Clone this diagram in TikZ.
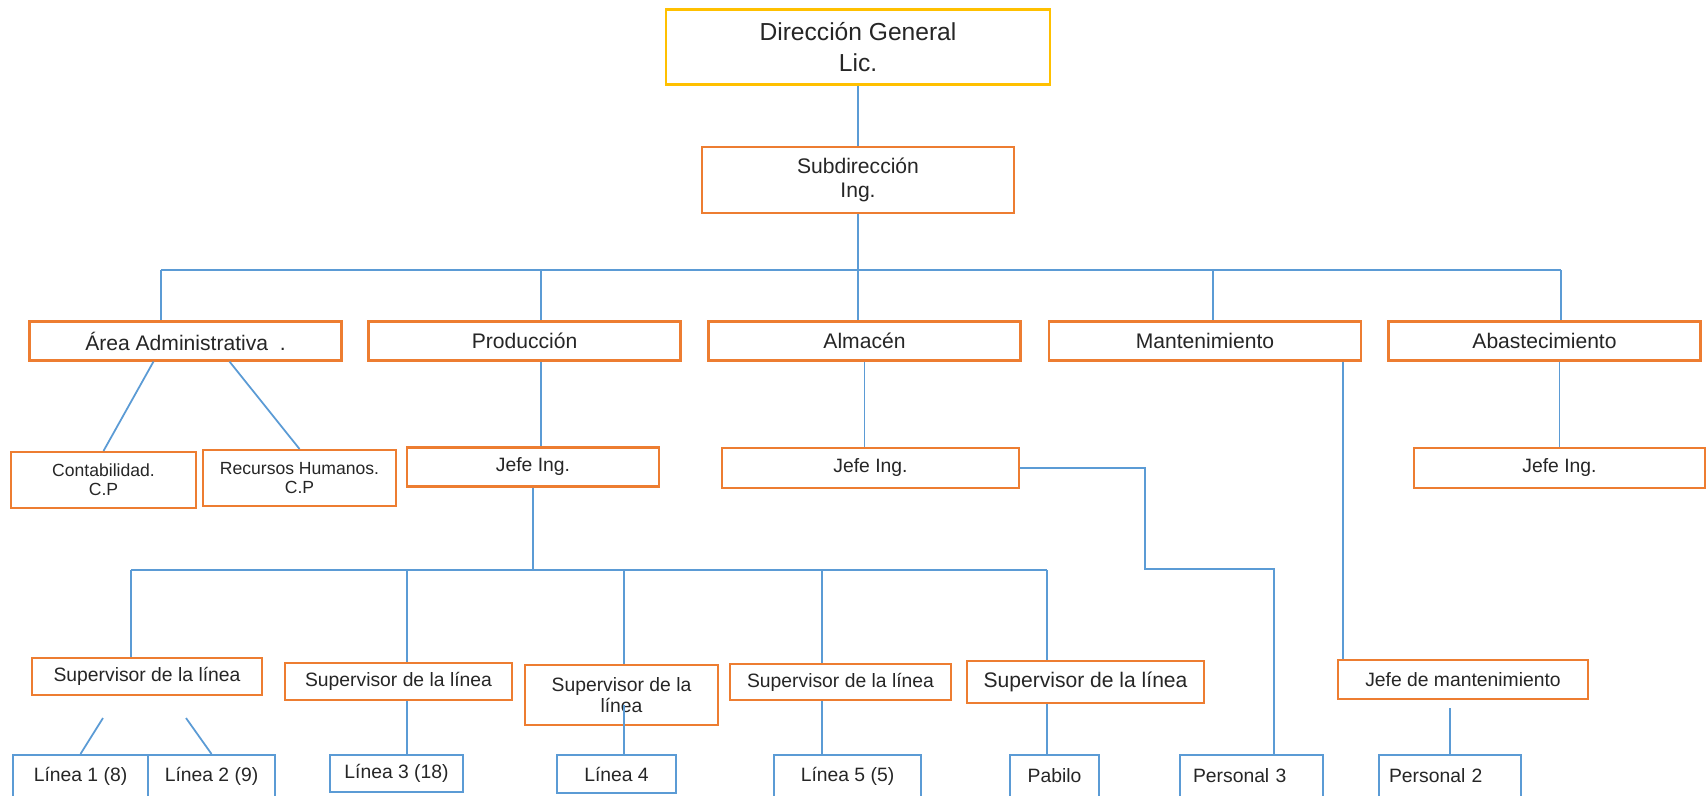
\documentclass[tikz,border=0pt]{standalone}
\usepackage{fontspec}
\setmainfont{Liberation Sans}
\definecolor{naranja}{HTML}{ED7D31}
\definecolor{azul}{HTML}{5B9BD5}
\definecolor{amarillo}{HTML}{FFC000}
\begin{document}
\begin{tikzpicture}[x=0.02cm,y=-0.02cm,
  caja/.style={draw=naranja,line width=1.2pt,inner sep=0pt,align=center,text=black!85},
  hoja/.style={draw=azul,line width=1.2pt,inner sep=0pt,align=center,text=black!85,minimum height=0.84cm,font=\fontsize{11}{13}\selectfont},
  linea/.style={draw=azul,line width=1pt},
  f10/.style={font=\fontsize{10}{11}\selectfont},f11/.style={font=\fontsize{11}{12.4}\selectfont},f12/.style={font=\fontsize{12}{13.6}\selectfont}]
\useasboundingbox (0,0) rectangle (1707,795);
\clip (0,0) rectangle (1707,795);
\fill[white] (0,0) rectangle (1707,795);
\node[caja,draw=amarillo,minimum width=7.68cm,minimum height=1.5cm,font=\fontsize{14}{18}\selectfont] (dg) at (858,47) {Dirección General\\Lic.};
\node[caja,f12,minimum width=6.24cm,minimum height=1.32cm] (sub) at (858,180) {Subdirección\\Ing.};
\foreach \n/\x/\t in {area/185.5/Área Administrativa~~.,prod/524.5/Producción,alm/864.5/Almacén,mant/1205/Mantenimiento,abas/1544.5/Abastecimiento}
  \node[caja,f12,minimum width=6.24cm,minimum height=0.78cm] (\n) at (\x,341) {\t};
\node[caja,f10,minimum width=3.7cm,minimum height=1.12cm] (cont) at (103.5,480) {Contabilidad.\\C.P};
\node[caja,f10,minimum width=3.86cm,minimum height=1.12cm] (rrhh) at (299.5,478) {Recursos Humanos.\\C.P};
\node[caja,f11,minimum width=5.04cm,minimum height=0.78cm] (jprod) at (533,467) {Jefe Ing.};
\node[caja,f11,minimum width=5.94cm,minimum height=0.8cm] (jalm) at (870.5,468) {Jefe Ing.};
\node[caja,f11,minimum width=5.82cm,minimum height=0.8cm] (jabas) at (1559.5,468) {Jefe Ing.};
\node[caja,f11,minimum width=4.6cm,minimum height=0.74cm] (s1) at (147,676.5) {Supervisor de la línea};
\node[caja,f11,minimum width=4.54cm,minimum height=0.74cm] (s2) at (398.5,681.5) {Supervisor de la línea};
\node[caja,f11,minimum width=3.86cm,minimum height=1.2cm] (s3) at (621.5,695) {Supervisor de la\\línea};
\node[caja,f11,minimum width=4.42cm,minimum height=0.72cm] (s4) at (840.5,682) {Supervisor de la línea};
\node[caja,f12,minimum width=4.74cm,minimum height=0.84cm] (s5) at (1085.5,682) {Supervisor de la línea};
\node[caja,f11,minimum width=5cm,minimum height=0.78cm] (jm) at (1463,679.5) {Jefe de mantenimiento};
\node[hoja,minimum width=2.7cm] (l1) at (80.5,776) {Línea 1 (8)};
\node[hoja,minimum width=2.54cm] (l2) at (211.5,776) {Línea 2 (9)};
\node[hoja,minimum width=2.66cm,minimum height=0.74cm] (l3) at (396.5,773.5) {Línea 3 (18)};
\node[hoja,minimum width=2.38cm,minimum height=0.76cm] (l4) at (616.5,774) {Línea 4};
\node[hoja,minimum width=2.94cm] (l5) at (847.5,776) {Línea 5 (5)};
\node[hoja,minimum width=1.78cm] (pab) at (1054.5,776) {Pabilo};
\node[hoja,text width=2.34cm,inner xsep=0.26cm,align=left] (p3) at (1251.5,776) {Personal 3};
\node[hoja,text width=2.44cm,inner xsep=0.2cm,align=left] (p2) at (1450,776) {Personal 2};
\draw[linea] (dg) -- (sub);
\coordinate (bus) at (858,270);
\draw[linea] (sub) -- (bus);
\foreach \n/\x in {area/161,prod/541,alm/858,mant/1213,abas/1561}{
  \coordinate (d\n) at (\x,270);
  \draw[linea] (d\n) -- (d\n |- \n.north);}
\draw[linea] (darea) -- (dabas);
\draw[linea] ([xshift=-0.64cm]area.south) -- (cont.north);
\draw[linea] ([xshift=0.88cm]area.south) -- (rrhh.north);
\coordinate (xp) at (541,0);\coordinate (xm) at (1343,0);
\draw[linea] (xp |- prod.south) -- (xp |- jprod.north);
\draw[linea] (alm.south) -- (alm.south |- jalm.north);
\draw[linea] (jabas.north |- abas.south) -- (jabas.north);
\draw[linea] (xm |- mant.south) -- (xm |- jm.north);
\coordinate (k1) at (1145,569);\coordinate (k2) at (1274,569);
\draw[linea] (jalm.east) -| (k1) -- (k2) -- (k2 |- p3.north);
\coordinate (pbus) at (533,570);
\draw[linea] (jprod.south) -- (pbus);
\foreach \n/\x in {s1/131,s2/407,s3/624,s4/822,s5/1047}{
  \coordinate (p\n) at (\x,570);
  \draw[linea] (p\n) -- (p\n |- \n.north);}
\draw[linea] (ps1) -- (ps5);
\coordinate (s1a) at (103,718);\coordinate (s1b) at (186,718);
\draw[linea] (s1a) -- (l1.north);
\draw[linea] (s1b) -- (l2.north);
\draw[linea] (ps2 |- s2.south) -- (ps2 |- l3.north);
\coordinate (s3a) at (624,705);
\draw[linea] (s3a) -- (s3a |- l4.north);
\draw[linea] (ps4 |- s4.south) -- (ps4 |- l5.north);
\draw[linea] (ps5 |- s5.south) -- (ps5 |- pab.north);
\coordinate (jma) at (1450,708);
\draw[linea] (jma) -- (p2.north);
\end{tikzpicture}
\end{document}
